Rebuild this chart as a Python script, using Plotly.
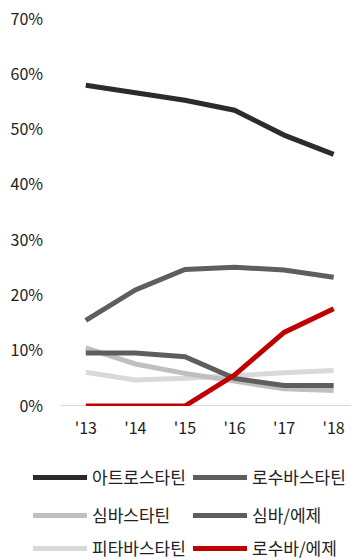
import plotly.graph_objects as go

years = ["'13", "'14", "'15", "'16", "'17", "'18"]
tick_vals = [0, 10, 20, 30, 40, 50, 60, 70]
tick_text = ["0%", "10%", "20%", "30%", "40%", "50%", "60%", "70%"]

atorvastatin = [58.0, 56.7, 55.3, 53.5, 49.0, 45.5]
rosuvastatin = [15.5, 21.0, 24.7, 25.1, 24.6, 23.3]
simvastatin = [10.5, 7.6, 5.9, 4.4, 3.1, 2.8]
simva_ezet = [9.6, 9.6, 8.9, 5.0, 3.7, 3.7]
pitavastatin = [6.1, 4.7, 5.0, 5.6, 6.0, 6.4]
rosuva_ezet = [0.0, 0.0, 0.0, 5.6, 13.3, 17.6]

series = [
    ("아트로스타틴", atorvastatin, "#2b2b2b"),
    ("로수바스타틴", rosuvastatin, "#5e5e5e"),
    ("심바스타틴", simvastatin, "#bfbfbf"),
    ("심바/에제", simva_ezet, "#5e5e5e"),
    ("피타바스타틴", pitavastatin, "#d9d9d9"),
    ("로수바/에제", rosuva_ezet, "#c00000"),
]

W, H = 351, 559
row_centers = [478, 516, 549]
col_lefts = [28, 188]

# draw order: lighter lines underneath, dark ones on top
draw_order = [4, 2, 3, 1, 0, 5]

fig = go.Figure()
for i in draw_order:
    name, vals, color = series[i]
    fig.add_trace(go.Scatter(
        x=list(range(len(years))), y=vals, name=name, mode="lines",
        line=dict(color=color, width=5), legend="legend" if i == 0 else f"legend{i + 1}",
    ))

font_family = "Noto Sans CJK KR, Noto Sans, sans-serif"


def legend_entry(i):
    # two entries per row, laid out left to right
    row, col = divmod(i, 2)
    return dict(
        orientation="h", xref="container", yref="container",
        x=col_lefts[col] / W, xanchor="left",
        y=1 - row_centers[row] / H, yanchor="middle",
        itemwidth=54,
        font=dict(size=17, color="#222222"),
        bgcolor="rgba(0,0,0,0)",
    )


legends = {("legend" if i == 0 else f"legend{i + 1}"): legend_entry(i) for i in range(6)}

fig.update_layout(
    width=W, height=H,
    margin=dict(l=61, r=0, t=19, b=153, autoexpand=False),
    paper_bgcolor="white", plot_bgcolor="white",
    font=dict(family=font_family, size=16, color="#222222"),
    xaxis=dict(
        range=[-0.5, 5.35], tickvals=list(range(len(years))), ticktext=years,
        showgrid=False, zeroline=False, showline=False, ticks="",
        tickfont=dict(size=16, color="#222222"),
        ticklabelstandoff=11,
    ),
    yaxis=dict(
        range=[0, 70], tickvals=tick_vals, ticktext=tick_text,
        showgrid=False, zeroline=False, showline=False, ticks="",
        tickfont=dict(size=16, color="#222222"),
        ticklabelstandoff=17,
    ),
    showlegend=True,
    **legends,
)

# baseline along 0%
fig.add_shape(type="line", xref="paper", yref="y", x0=0, x1=1, y0=0, y1=0,
              line=dict(color="#d9d9d9", width=2), layer="below")

fig.write_html("out.html")
